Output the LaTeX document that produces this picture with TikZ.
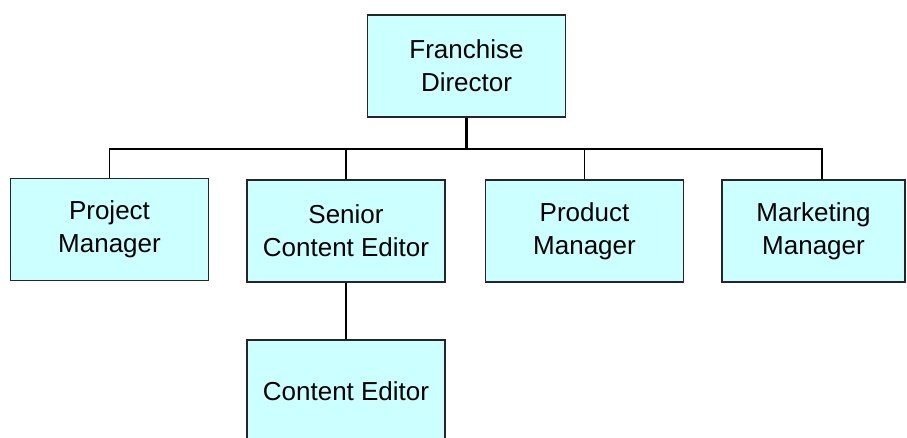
\documentclass[tikz,border=0pt]{standalone}
\usepackage{fontspec}
\setmainfont{Liberation Sans}
\usepackage{tikz}
\definecolor{boxfill}{HTML}{CCFFFF}
\tikzset{
	post/.style={draw=black!85, fill=boxfill, line width=1.8pt, minimum width=198pt, minimum height=102pt, inner sep=0pt, align=center, font=\fontsize{26}{33}\selectfont},
	link/.style={line width=1.8pt, black}
}

\begin{document}
\begin{tikzpicture}[x=1pt, y=-1pt]
			%%%%% START %%%%%
			
			\useasboundingbox (0, 0) rectangle (907, 437);
			
			\node[post] (dir) at (466.5, 66) {Franchise\\Director};
			
			\node[post] (pm) at (109.5, 229.5) {Project\\Manager};
			\node[post] (sce) at (346, 231) {Senior\\Content Editor};
			\node[post] (prm) at (584.5, 231) {Product\\Manager};
			\node[post, minimum width=183pt] (mm) at (813.5, 231) {Marketing\\Manager};
			
			\node[post] (ce) at (346, 391) {Content Editor};
			
			\draw[link, line width=2.6pt] (dir.south) -- ++(0, 31) coordinate (bus);
			\draw[link] (pm.north) |- (bus) -| ([xshift=8.5pt]mm.north);
			\draw[link] (sce.north) -- (sce.north |- bus);
			\draw[link] (prm.north) -- (prm.north |- bus);
			\draw[link] (sce.south) -- (ce.north);
			
			%%%%% END %%%%%
		\end{tikzpicture}
\end{document}
